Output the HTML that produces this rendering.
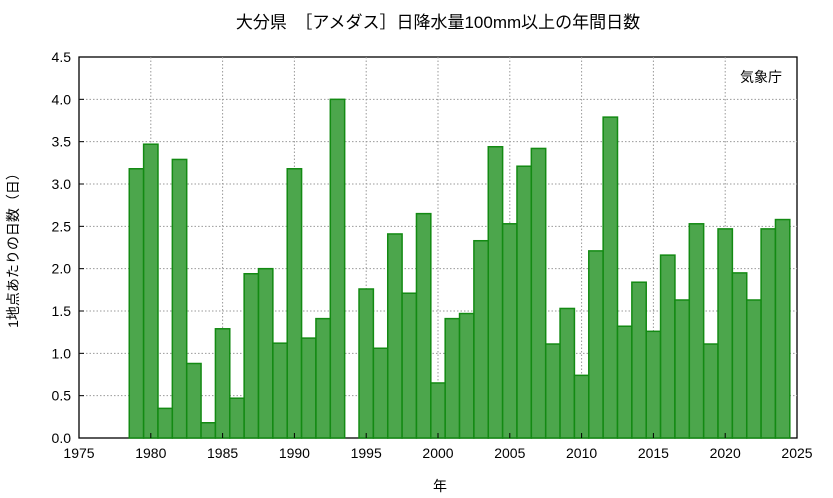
<!DOCTYPE html>
<html><head><meta charset="utf-8"><style>
html,body{margin:0;padding:0;background:#fff;}
svg{display:block;font-family:"Liberation Sans","Noto Sans CJK JP",sans-serif;}
</style></head><body>
<svg id="c" width="833" height="498">
<text x="438" y="28" text-anchor="middle" font-size="17">大分県　［アメダス］日降水量100mm以上の年間日数</text>
<rect x="79" y="57" width="718" height="381" fill="none" stroke="#000" stroke-width="1.3"/>
<text x="782" y="82" text-anchor="end" font-size="14">気象庁</text>
<text x="440" y="491" text-anchor="middle" font-size="14">年</text>
<text transform="translate(18,247) rotate(-90)" text-anchor="middle" font-size="14">1地点あたりの日数（日）</text>
<g id="grid"></g><g id="bars"></g><g id="ticks"></g>
</svg>
<script>
const years=[1979,1980,1981,1982,1983,1984,1985,1986,1987,1988,1989,1990,1991,1992,1993,1995,1996,1997,1998,1999,2000,2001,2002,2003,2004,2005,2006,2007,2008,2009,2010,2011,2012,2013,2014,2015,2016,2017,2018,2019,2020,2021,2022,2023,2024];
const values=[3.18,3.47,0.35,3.29,0.88,0.18,1.29,0.47,1.94,2.00,1.12,3.18,1.18,1.41,4.00,1.76,1.06,2.41,1.71,2.65,0.65,1.41,1.47,2.33,3.44,2.53,3.21,3.42,1.11,1.53,0.74,2.21,3.79,1.32,1.84,1.26,2.16,1.63,2.53,1.11,2.47,1.95,1.63,2.47,2.58];
const xTicks=[1975,1980,1985,1990,1995,2000,2005,2010,2015,2020,2025];
const yTicks=[0,0.5,1,1.5,2,2.5,3,3.5,4,4.5];
const X0=79,X1=797,Y0=438,Y1=57;
const xs=v=>X0+(v-1975)/50*(X1-X0);
const ys=v=>Y0-(v/4.5)*(Y0-Y1);
const NS="http://www.w3.org/2000/svg";
function mk(t,a){const e=document.createElementNS(NS,t);for(const k in a)e.setAttribute(k,a[k]);return e;}
const grid=document.getElementById('grid'),bars=document.getElementById('bars'),ticks=document.getElementById('ticks');
xTicks.forEach(t=>{const x=xs(t);
 if(t>1975&&t<2025){const g=mk('line',{x1:x,x2:x,y1:Y1,y2:Y0,stroke:'#999','stroke-dasharray':'1.5,2','stroke-width':1});
 
 grid.appendChild(g);}
 const tk=mk('line',{x1:x,x2:x,y1:Y0,y2:Y0-5,stroke:'#000'});
 
 ticks.appendChild(tk);
 const l=mk('text',{x:x,y:Y0+20,'text-anchor':'middle','font-size':14});l.textContent=t;
 
 ticks.appendChild(l);});
yTicks.forEach(t=>{const y=ys(t);
 if(t>0&&t<4.5){const g=mk('line',{x1:X0,x2:X1,y1:y,y2:y,stroke:'#999','stroke-dasharray':'1.5,2','stroke-width':1});
 
 grid.appendChild(g);}
 const tk=mk('line',{x1:X0,x2:X0+5,y1:y,y2:y,stroke:'#000'});
 
 ticks.appendChild(tk);
 const l=mk('text',{x:X0-8,y:y+5,'text-anchor':'end','font-size':14});l.textContent=t.toFixed(1);
 
 ticks.appendChild(l);});
years.forEach((yr,i)=>{const xa=xs(yr-0.5),xb=xs(yr+0.5),y=ys(values[i]);
 const r=mk('rect',{x:xa,y:y,width:xb-xa,height:Y0-y,fill:'#4ca64c',stroke:'#138a13','stroke-width':1.5});
 
 bars.appendChild(r);});
</script>
</body></html>
